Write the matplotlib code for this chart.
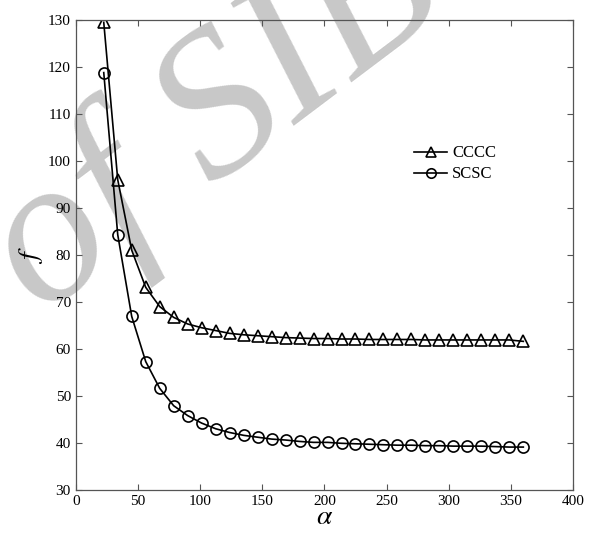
import matplotlib
matplotlib.use("Agg")
import matplotlib.pyplot as plt

alpha_vals = [22.5, 33.75, 45, 56.25, 67.5, 78.75, 90, 101.25, 112.5, 123.75,
              135, 146.25, 157.5, 168.75, 180, 191.25, 202.5, 213.75, 225, 236.25,
              247.5, 258.75, 270, 281.25, 292.5, 303.75, 315, 326.25, 337.5, 348.75, 360]
cccc = [129.5, 96.0, 81.0, 73.1, 69.0, 66.7, 65.3, 64.5, 63.9, 63.3,
        63.0, 62.8, 62.6, 62.4, 62.3, 62.2, 62.2, 62.1, 62.1, 62.0,
        62.0, 62.0, 62.0, 61.9, 61.9, 61.9, 61.9, 61.9, 61.9, 61.9, 61.6]
scsc = [118.8, 84.3, 66.9, 57.3, 51.6, 47.9, 45.8, 44.2, 43.0, 42.2,
        41.6, 41.2, 40.8, 40.6, 40.3, 40.1, 40.1, 39.9, 39.8, 39.7,
        39.6, 39.5, 39.5, 39.4, 39.4, 39.3, 39.3, 39.3, 39.2, 39.1, 39.1]
xticks = [0, 50, 100, 150, 200, 250, 300, 350, 400]
yticks = [30, 40, 50, 60, 70, 80, 90, 100, 110, 120, 130]

plt.rcParams['font.family'] = ['Liberation Serif', 'DejaVu Serif']
plt.rcParams['mathtext.fontset'] = 'stix'

fig = plt.figure(figsize=(5.92, 5.33), dpi=100)
ax = fig.add_axes([0.128, 0.081, 0.840, 0.8815])
ax.set_zorder(1)
ax.set_facecolor('none')

# watermark (behind the plot)
fig.text(0.068, 0.405, "of SIB", fontsize=150, fontstyle='italic',
         color='#c8c8c8', rotation=37, rotation_mode='anchor',
         ha='left', va='baseline', zorder=-1)

ax.plot(alpha_vals, cccc, '-', color='black', lw=1.2, marker='^', ms=9,
        mfc='none', mec='black', mew=1.2, label='CCCC')
ax.plot(alpha_vals, scsc, '-', color='black', lw=1.2, marker='o', ms=8,
        mfc='none', mec='black', mew=1.2, label='SCSC')

ax.set_xlim(0, 400)
ax.set_ylim(30, 130)
ax.set_xticks(xticks)
ax.set_yticks(yticks)
ax.tick_params(direction='in', top=True, right=True, labelsize=11, length=4,
               color='#555555')
for s in ax.spines.values():
    s.set_color('#555555')
    s.set_linewidth(0.9)

ax.set_xlabel(r'$\alpha$', fontsize=20, labelpad=-2)
ax.set_ylabel(r'$f$', fontsize=20, labelpad=2)

leg = ax.legend(loc='upper left', bbox_to_anchor=(0.65, 0.765), frameon=False,
                fontsize=12, handlelength=2.0, handletextpad=0.3, labelspacing=0.3,
                markerscale=0.85)

fig.savefig('out.png', dpi=100)
